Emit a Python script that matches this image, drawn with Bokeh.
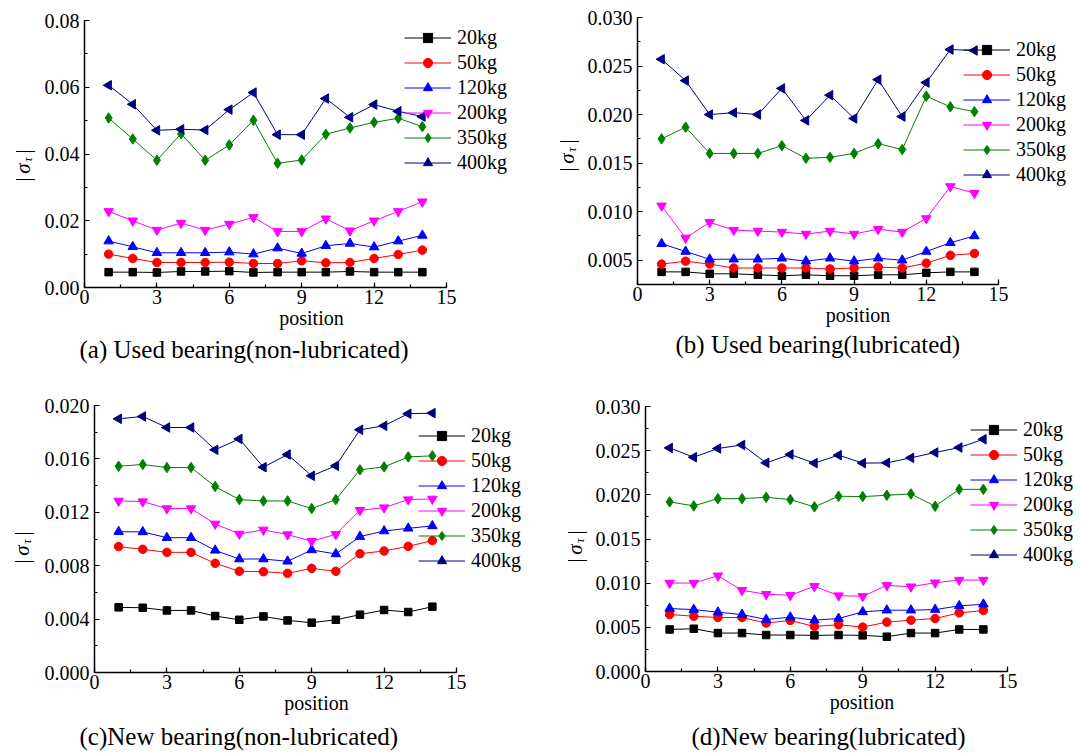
import math
from bokeh.plotting import figure
from bokeh.layouts import column, row
from bokeh.models import (Range1d, SingleIntervalTicker, PrintfTickFormatter, Legend,
                          LegendItem, Label, Title)
from bokeh.embed import file_html
from bokeh.resources import INLINE

positions = list(range(1, 15))
loads = ["20kg", "50kg", "120kg", "200kg", "350kg", "400kg"]

# (a) Used bearing (non-lubricated)
a20 = [0.0046, 0.0046, 0.0045, 0.0048, 0.0048, 0.0049, 0.0045, 0.0046, 0.0046, 0.0046, 0.0048, 0.0046, 0.0046, 0.0046]
a50 = [0.0100, 0.0087, 0.0075, 0.0075, 0.0075, 0.0076, 0.0072, 0.0072, 0.0080, 0.0074, 0.0075, 0.0087, 0.0099, 0.0112]
a120 = [0.0139, 0.0122, 0.0104, 0.0104, 0.0104, 0.0106, 0.0100, 0.0118, 0.0102, 0.0125, 0.0132, 0.0121, 0.0139, 0.0156]
a200 = [0.0228, 0.0200, 0.0172, 0.0193, 0.0172, 0.0190, 0.0210, 0.0168, 0.0168, 0.0206, 0.0170, 0.0200, 0.0228, 0.0257]
a350 = [0.0508, 0.0445, 0.0381, 0.0461, 0.0381, 0.0427, 0.0501, 0.0372, 0.0382, 0.0459, 0.0478, 0.0495, 0.0507, 0.0482]
a400 = [0.0606, 0.0549, 0.0471, 0.0474, 0.0472, 0.0533, 0.0584, 0.0458, 0.0458, 0.0566, 0.0510, 0.0548, 0.0528, 0.0512]

# (b) Used bearing (lubricated)
b20 = [0.0038, 0.0038, 0.0036, 0.0036, 0.0035, 0.0034, 0.0035, 0.0034, 0.0034, 0.0035, 0.0035, 0.0037, 0.0038, 0.0038]
b50 = [0.0046, 0.0049, 0.0046, 0.0042, 0.0042, 0.0042, 0.0042, 0.0041, 0.0042, 0.0043, 0.0042, 0.0047, 0.0055, 0.0057]
b120 = [0.0067, 0.0059, 0.0051, 0.0051, 0.0051, 0.0052, 0.0049, 0.0052, 0.0049, 0.0052, 0.0050, 0.0059, 0.0068, 0.0075]
b200 = [0.0106, 0.0073, 0.0089, 0.0081, 0.0080, 0.0079, 0.0077, 0.0080, 0.0077, 0.0082, 0.0079, 0.0093, 0.0126, 0.0119]
b350 = [0.0175, 0.0187, 0.0160, 0.0160, 0.0160, 0.0168, 0.0155, 0.0156, 0.0160, 0.0170, 0.0164, 0.0219, 0.0208, 0.0203]
b400 = [0.0257, 0.0235, 0.0200, 0.0202, 0.0200, 0.0227, 0.0194, 0.0220, 0.0196, 0.0236, 0.0198, 0.0233, 0.0267, 0.0266]

# (c) New bearing (non-lubricated)
c20 = [0.00488, 0.00485, 0.00465, 0.00465, 0.00423, 0.00395, 0.00420, 0.00390, 0.00373, 0.00395, 0.00433, 0.00468, 0.00453, 0.00493]
c50 = [0.00943, 0.00923, 0.00900, 0.00900, 0.00818, 0.00758, 0.00755, 0.00743, 0.00780, 0.00758, 0.00890, 0.00910, 0.00945, 0.00988]
c120 = [0.01055, 0.01053, 0.01010, 0.01010, 0.00915, 0.00850, 0.00850, 0.00833, 0.00918, 0.00888, 0.01018, 0.01060, 0.01080, 0.01098]
c200 = [0.01285, 0.01280, 0.01228, 0.01228, 0.01113, 0.01038, 0.01068, 0.01033, 0.00983, 0.01035, 0.01215, 0.01235, 0.01295, 0.01300]
c350 = [0.01545, 0.01558, 0.01535, 0.01535, 0.01393, 0.01295, 0.01285, 0.01285, 0.01228, 0.01295, 0.01518, 0.01540, 0.01615, 0.01623]
c400 = [0.01900, 0.01918, 0.01835, 0.01835, 0.01668, 0.01750, 0.01538, 0.01633, 0.01473, 0.01548, 0.01818, 0.01848, 0.01938, 0.01943]

# (d) New bearing (lubricated)
d20 = [0.00476, 0.00484, 0.00435, 0.00435, 0.00413, 0.00413, 0.00409, 0.00413, 0.00409, 0.00394, 0.00435, 0.00435, 0.00476, 0.00476]
d50 = [0.00645, 0.00626, 0.00611, 0.00611, 0.00548, 0.00578, 0.00510, 0.00529, 0.00503, 0.00559, 0.00581, 0.00600, 0.00664, 0.00690]
d120 = [0.00713, 0.00701, 0.00671, 0.00645, 0.00589, 0.00615, 0.00581, 0.00600, 0.00675, 0.00694, 0.00694, 0.00701, 0.00743, 0.00761]
d200 = [0.01001, 0.01001, 0.01084, 0.00919, 0.00874, 0.00863, 0.00964, 0.00859, 0.00851, 0.00975, 0.00960, 0.01005, 0.01035, 0.01035]
d350 = [0.01920, 0.01875, 0.01957, 0.01957, 0.01972, 0.01946, 0.01864, 0.01984, 0.01980, 0.01995, 0.02010, 0.01871, 0.02062, 0.02062]
d400 = [0.02531, 0.02426, 0.02524, 0.02565, 0.02362, 0.02456, 0.02359, 0.02449, 0.02359, 0.02362, 0.02419, 0.02479, 0.02535, 0.02629]

captions = ["(a) Used bearing(non-lubricated)", "(b) Used bearing(lubricated)",
            "(c)New bearing(non-lubricated)", "(d)New bearing(lubricated)"]

colors = ["#000000", "#ff0000", "#0000ff", "#ff00ff", "#008000", "#000080"]
markers = ["square", "circle", "triangle", "inverted_triangle", "diamond", "triangle"]
mangles = [0, 0, 0, 0, 0, math.pi / 2]
msizes = [7.5, 8.5, 9.5, 9.5, 10.5, 9.5]

FONT = "Liberation Serif"
PAGE = 0
COLW = [540, 540]
ROWH = [370, 385]

# positions are in reference-page pixels
specs = [
    dict(series=[a20, a50, a120, a200, a350, a400], col=0, row=0, yw=36,
         x0=84, x15=446, ytop=20, ybot=287, y0=0.0, y1=0.08, step=0.02, fmt="%.2f",
         leg=(404, 25), cap_left=79, cap_standoff=4, ylab=(22, 165)),
    dict(series=[b20, b50, b120, b200, b350, b400], col=1, row=0, yw=44,
         x0=637, x15=998, ytop=17, ybot=284, y0=0.0025, y1=0.030, step=0.005, fmt="%.3f",
         leg=(963, 37), cap_left=675, cap_standoff=0, ylab=(566, 155)),
    dict(series=[c20, c50, c120, c200, c350, c400], col=0, row=1, yw=36,
         x0=94, x15=456, ytop=405, ybot=672, y0=0.0, y1=0.020, step=0.004, fmt="%.3f",
         leg=(418, 423), cap_left=79, cap_standoff=9, ylab=(21, 547)),
    dict(series=[d20, d50, d120, d200, d350, d400], col=1, row=1, yw=50,
         x0=645, x15=1007, ytop=406, ybot=672, y0=0.0, y1=0.030, step=0.005, fmt="%.3f",
         leg=(970, 418), cap_left=691, cap_standoff=11, ylab=(574, 547)),
]

panels = {}
for k, s in enumerate(specs):
    pageX = PAGE + sum(COLW[:s["col"]])
    pageY = PAGE + sum(ROWH[:s["row"]])
    W = COLW[s["col"]]
    H = ROWH[s["row"]]
    yw = s["yw"]

    # y-label strip (its frame is aligned with the neighbouring plot's frame)
    yf = figure(width=yw, height=H, output_backend="svg", toolbar_location=None,
                x_axis_type=None, y_axis_type=None, min_border=0,
                x_range=Range1d(0, 1), y_range=Range1d(0, 1))
    yf.outline_line_color = None
    yf.grid.visible = False
    lx = s["ylab"][0] - pageX
    ly = s["ybot"] - s["ylab"][1]
    pieces = [("|", 0, -14, "normal", "21px"), ("σ", 0, -3, "italic", "21px"),
              ("τ", 5, 6, "italic", "12px"), ("|", 0, 14, "normal", "21px")]
    for txt, dx, dy, style, size in pieces:
        yf.add_layout(Label(x=lx + dx, y=ly + dy, x_units="screen", y_units="screen",
                            text=txt, angle=math.pi / 2, text_font=FONT,
                            text_font_style=style, text_font_size=size,
                            text_align="center", text_baseline="middle",
                            text_color="black"))

    MW = W - yw
    fl = s["x0"] - (pageX + yw)          # frame left in main-figure pixels
    fr = 2                                # right border
    ft = s["ytop"] - pageY
    fb = H - (s["ybot"] - pageY)
    frame_w = MW - fl - fr
    ppu = (s["x15"] - s["x0"]) / 15.0
    x_end = frame_w / ppu

    p = figure(width=MW, height=H, output_backend="svg", toolbar_location=None,
               x_range=Range1d(0, x_end), y_range=Range1d(s["y0"], s["y1"]),
               min_border_left=fl, min_border_right=fr,
               min_border_top=ft, min_border_bottom=fb)
    p.outline_line_color = None
    p.grid.visible = False

    p.xaxis.bounds = (0, 15)
    p.xaxis.ticker = SingleIntervalTicker(interval=3, num_minor_ticks=2)
    p.yaxis.ticker = SingleIntervalTicker(interval=s["step"], num_minor_ticks=2)
    p.yaxis.formatter = PrintfTickFormatter(format=s["fmt"])
    for ax in (p.xaxis, p.yaxis):
        ax.axis_line_color = "black"
        ax.axis_line_width = 1.5
        ax.major_tick_line_color = "black"
        ax.minor_tick_line_color = "black"
        ax.major_tick_line_width = 1.2
        ax.minor_tick_line_width = 1.2
        ax.major_tick_in = 5
        ax.major_tick_out = 0
        ax.minor_tick_in = 3
        ax.minor_tick_out = 0
        ax.major_label_text_font = FONT
        ax.major_label_text_font_size = "20px"
        ax.major_label_text_color = "black"
    p.xaxis.major_label_standoff = 2
    p.yaxis.major_label_standoff = 5
    p.xaxis.axis_label = "position"
    p.xaxis.axis_label_text_font = FONT
    p.xaxis.axis_label_text_font_size = "20px"
    p.xaxis.axis_label_text_font_style = "normal"
    p.xaxis.axis_label_text_color = "black"
    p.xaxis.axis_label_standoff = 0

    items = []
    for i, ys in enumerate(s["series"]):
        ln = p.line(positions, ys, line_color=colors[i], line_width=1)
        sc = p.scatter(positions, ys, marker=markers[i], size=msizes[i], angle=mangles[i],
                       fill_color=colors[i], line_color=colors[i])
        items.append(LegendItem(label=loads[i], renderers=[ln, sc]))

    gh, sp = 23, 2
    leg_h = 6 * gh + 5 * sp + 1
    leg_x = s["leg"][0] - s["x0"]
    leg_y = s["ybot"] - (s["leg"][1] + leg_h)
    leg = Legend(items=items, location=(leg_x, leg_y), glyph_width=47, glyph_height=gh,
                 label_height=gh, spacing=sp, padding=0, margin=0, label_standoff=6,
                 border_line_color=None, background_fill_alpha=0,
                 label_text_font=FONT, label_text_font_size="20px",
                 label_text_color="black")
    p.add_layout(leg)

    cap = Title(text=captions[k], align="left", offset=s["cap_left"] - s["x0"],
                standoff=s["cap_standoff"], text_font=FONT, text_font_size="25px",
                text_font_style="normal", text_color="black")
    p.add_layout(cap, "below")

    panels[(s["row"], s["col"])] = row(yf, p)

layout = column(row(panels[(0, 0)], panels[(0, 1)]), row(panels[(1, 0)], panels[(1, 1)]))
open("out.html", "w").write(file_html(layout, INLINE))
